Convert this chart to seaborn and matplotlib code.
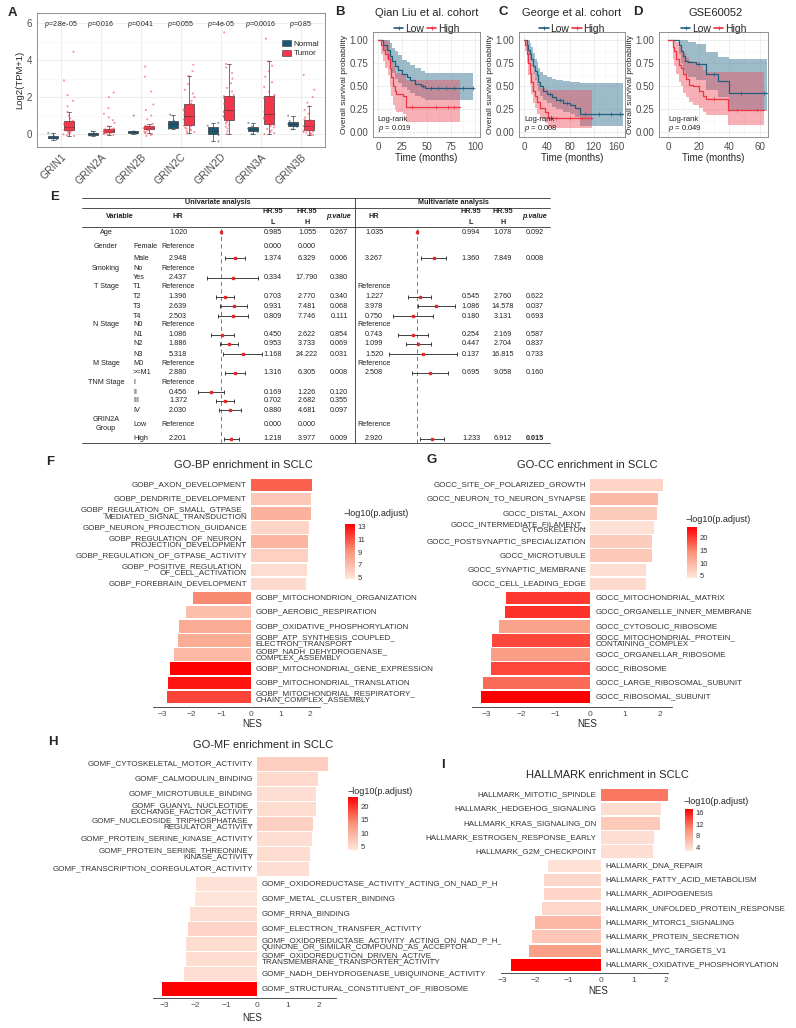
import numpy as np
import pandas as pd
import seaborn as sns
import matplotlib.pyplot as plt
from matplotlib.colors import LinearSegmentedColormap, Normalize
from matplotlib.cm import ScalarMappable
from matplotlib.lines import Line2D
from matplotlib.patches import Patch

sns.set_style("white")
plt.rcParams['font.family'] = ['Liberation Sans', 'DejaVu Sans']
plt.rcParams['mathtext.fontset'] = 'custom'
plt.rcParams['mathtext.rm'] = 'Liberation Sans'
plt.rcParams['mathtext.it'] = 'Liberation Sans:italic'
plt.rcParams['mathtext.bf'] = 'Liberation Sans:bold'

# ---------------- A: GRIN expression, normal vs tumor ----------------
genes = ["GRIN1", "GRIN2A", "GRIN2B", "GRIN2C", "GRIN2D", "GRIN3A", "GRIN3B"]
p_a = ["2.8e-05", "0.016", "0.041", "0.055", "4e-05", "0.0016", "0.85"]

grin1_normal = [-0.3, -0.25, -0.2, -0.18, -0.1, 0.05]
grin2a_normal = [-0.08, -0.04, 0.0, 0.02, 0.05, 0.15]
grin2b_normal = [0.02, 0.06, 0.1, 0.12, 0.15, 1.0]
grin2c_normal = [0.28, 0.32, 0.45, 0.6, 0.72, 1.05]
grin2d_normal = [-0.4, -0.05, 0.1, 0.2, 0.45, 0.6]
grin3a_normal = [0.0, 0.12, 0.25, 0.3, 0.42, 0.6]
grin3b_normal = [0.25, 0.4, 0.5, 0.55, 0.7, 1.0]

grin1_tumor = [-0.1, -0.06, -0.02, 0.03, 0.07, 0.1, 0.13, 0.17, 0.19, 0.21, 0.23, 0.25,
               0.27, 0.29, 0.31, 0.33, 0.36, 0.38, 0.4, 0.43, 0.46, 0.5, 0.54, 0.58,
               0.61, 0.64, 0.72, 0.85, 1.0, 1.2, 1.5, 1.8, 2.1, 2.9, 4.45]
grin2a_tumor = [-0.05, -0.02, 0.0, 0.03, 0.05, 0.07, 0.09, 0.1, 0.11, 0.13, 0.14, 0.15,
                0.15, 0.16, 0.16, 0.17, 0.17, 0.18, 0.19, 0.2, 0.21, 0.22, 0.23, 0.25,
                0.26, 0.27, 0.3, 0.42, 0.6, 0.75, 0.9, 1.1, 1.4, 2.0, 2.25]
grin2b_tumor = [-0.1, -0.05, 0.0, 0.05, 0.1, 0.15, 0.2, 0.24, 0.27, 0.28, 0.29, 0.3,
                0.3, 0.31, 0.31, 0.32, 0.32, 0.33, 0.34, 0.35, 0.36, 0.37, 0.38, 0.39,
                0.4, 0.41, 0.45, 0.55, 0.8, 1.0, 1.3, 1.6, 2.3, 3.1, 3.65]
grin2c_tumor = [0.05, 0.1, 0.15, 0.2, 0.25, 0.3, 0.35, 0.42, 0.46, 0.5, 0.56, 0.62,
                0.68, 0.74, 0.8, 0.86, 0.92, 0.97, 1.05, 1.12, 1.2, 1.28, 1.36, 1.44,
                1.52, 1.6, 1.65, 1.8, 2.0, 2.2, 2.4, 2.7, 3.15, 3.4, 3.75]
grin2d_tumor = [0.0, 0.15, 0.3, 0.4, 0.5, 0.58, 0.65, 0.72, 0.76, 0.8, 0.86, 0.92,
                0.98, 1.04, 1.1, 1.17, 1.24, 1.3, 1.38, 1.46, 1.55, 1.64, 1.74, 1.84,
                1.94, 2.05, 2.12, 2.3, 2.5, 2.75, 3.0, 3.3, 3.6, 3.8, 5.5]
grin3a_tumor = [0.0, 0.05, 0.12, 0.2, 0.28, 0.36, 0.44, 0.5, 0.54, 0.58, 0.64, 0.7,
                0.77, 0.84, 0.9, 0.96, 1.02, 1.08, 1.2, 1.32, 1.45, 1.58, 1.7, 1.82,
                1.94, 2.05, 2.12, 2.3, 2.55, 2.8, 3.1, 3.4, 3.7, 3.94, 5.16]
grin3b_tumor = [-0.05, 0.0, 0.04, 0.08, 0.11, 0.14, 0.17, 0.19, 0.21, 0.23, 0.26, 0.29,
                0.32, 0.35, 0.38, 0.41, 0.43, 0.45, 0.48, 0.52, 0.56, 0.6, 0.64, 0.68,
                0.72, 0.74, 0.78, 0.9, 1.1, 1.3, 1.5, 1.7, 2.0, 2.4, 3.2]

normal_sets = [grin1_normal, grin2a_normal, grin2b_normal, grin2c_normal,
               grin2d_normal, grin3a_normal, grin3b_normal]
tumor_sets = [grin1_tumor, grin2a_tumor, grin2b_tumor, grin2c_tumor,
              grin2d_tumor, grin3a_tumor, grin3b_tumor]

# ---------------- B-D: Kaplan-Meier (time, surv, lower, upper) ----------------
b_low_t = [0, 5, 9, 12, 15, 17.5, 21, 24.5, 30, 33, 38.5, 44, 48, 98]
b_low_s = [1.0, 0.95, 0.9, 0.83, 0.77, 0.72, 0.68, 0.63, 0.6, 0.57, 0.53, 0.5, 0.48, 0.48]
b_low_lo = [1.0, 0.88, 0.8, 0.71, 0.64, 0.58, 0.54, 0.49, 0.46, 0.43, 0.4, 0.37, 0.35, 0.35]
b_low_hi = [1.0, 1.0, 1.0, 0.97, 0.92, 0.88, 0.84, 0.79, 0.76, 0.73, 0.7, 0.67, 0.65, 0.65]
b_high_t = [0, 3, 5, 7, 10.5, 12, 14, 16, 17.5, 19, 26, 29, 84]
b_high_s = [1.0, 0.95, 0.9, 0.85, 0.8, 0.7, 0.6, 0.5, 0.45, 0.42, 0.4, 0.28, 0.28]
b_high_lo = [1.0, 0.85, 0.77, 0.7, 0.62, 0.5, 0.4, 0.3, 0.25, 0.22, 0.2, 0.11, 0.11]
b_high_hi = [1.0, 1.0, 1.0, 1.0, 0.98, 0.9, 0.82, 0.72, 0.67, 0.64, 0.62, 0.57, 0.57]
b_low_cens = [46, 55, 62, 70, 78, 88, 98]
b_high_cens = [35, 60, 72, 78]

c_low_t = [0, 4.6, 7.5, 10.4, 13, 16, 19, 22, 25, 27.6, 33, 39, 48, 56, 68, 79, 88, 97, 171]
c_low_s = [1.0, 0.95, 0.9, 0.85, 0.8, 0.72, 0.67, 0.62, 0.55, 0.5, 0.45, 0.42, 0.38,
           0.35, 0.32, 0.3, 0.27, 0.2, 0.2]
c_low_lo = [1.0, 0.9, 0.84, 0.78, 0.72, 0.63, 0.57, 0.52, 0.45, 0.4, 0.35, 0.32, 0.28,
            0.25, 0.22, 0.2, 0.17, 0.07, 0.07]
c_low_hi = [1.0, 1.0, 1.0, 0.97, 0.93, 0.86, 0.8, 0.76, 0.7, 0.66, 0.62, 0.6, 0.58,
            0.57, 0.56, 0.55, 0.55, 0.54, 0.54]
c_high_t = [0, 2, 4.6, 7.5, 10, 13, 16, 19, 22, 27.6, 36, 42, 118]
c_high_s = [1.0, 0.95, 0.85, 0.75, 0.65, 0.55, 0.45, 0.4, 0.33, 0.27, 0.22, 0.16, 0.16]
c_high_lo = [1.0, 0.88, 0.75, 0.62, 0.52, 0.42, 0.32, 0.27, 0.2, 0.15, 0.1, 0.05, 0.05]
c_high_hi = [1.0, 1.0, 0.96, 0.9, 0.82, 0.73, 0.64, 0.59, 0.53, 0.48, 0.47, 0.46, 0.46]
c_low_cens = [45, 62, 75, 105, 130, 150, 165]
c_high_cens = [55, 80, 100, 115]

d_low_t = [0, 7, 8.5, 9.6, 11, 13, 18.4, 25, 32.6, 39.8, 65]
d_low_s = [1.0, 0.95, 0.88, 0.83, 0.78, 0.76, 0.74, 0.63, 0.56, 0.43, 0.43]
d_low_lo = [1.0, 0.85, 0.75, 0.68, 0.63, 0.6, 0.57, 0.46, 0.38, 0.23, 0.23]
d_low_hi = [1.0, 1.0, 1.0, 1.0, 1.0, 0.98, 0.96, 0.87, 0.82, 0.8, 0.8]
d_high_t = [0, 3, 4, 5.3, 7, 8.5, 10, 12, 14, 16, 20.5, 23, 25, 39, 63]
d_high_s = [1.0, 0.93, 0.88, 0.8, 0.73, 0.7, 0.63, 0.58, 0.52, 0.5, 0.45, 0.4, 0.36, 0.24, 0.24]
d_high_lo = [1.0, 0.8, 0.72, 0.63, 0.55, 0.5, 0.43, 0.38, 0.33, 0.3, 0.26, 0.22, 0.19, 0.08, 0.08]
d_high_hi = [1.0, 1.0, 1.0, 0.98, 0.93, 0.9, 0.86, 0.82, 0.78, 0.76, 0.72, 0.68, 0.66, 0.66, 0.66]
d_low_cens = [20, 30, 48, 63]
d_high_cens = [30, 45, 58]

# ---------------- E: Cox regression table ----------------
tab_var = ["Age", "Gender", "", "Smoking", "", "T Stage", "", "", "", "N Stage", "", "", "",
           "M Stage", "", "TNM Stage", "", "", "", "GRIN2A\nGroup", ""]
tab_level = ["", "Female", "Male", "No", "Yes", "T1", "T2", "T3", "T4", "N0", "N1", "N2", "N3",
             "M0", ">=M1", "I", "II", "III", "IV", "Low", "High"]
nan = np.nan
uni_ref = [1, 3, 5, 9, 13, 15, 19]
uni_hr = [1.020, nan, 2.948, nan, 2.437, nan, 1.396, 2.639, 2.503, nan, 1.086, 1.886, 5.318,
          nan, 2.880, nan, 0.456, 1.372, 2.030, nan, 2.201]
uni_lo = [0.985, 0.0, 1.374, nan, 0.334, nan, 0.703, 0.931, 0.809, nan, 0.450, 0.953, 1.168,
          nan, 1.316, nan, 0.169, 0.702, 0.880, 0.0, 1.218]
uni_hi = [1.055, 0.0, 6.329, nan, 17.790, nan, 2.770, 7.481, 7.746, nan, 2.622, 3.733, 24.222,
          nan, 6.305, nan, 1.226, 2.682, 4.681, 0.0, 3.977]
uni_p = [0.267, nan, 0.006, nan, 0.380, nan, 0.340, 0.068, 0.111, nan, 0.854, 0.069, 0.031,
         nan, 0.008, nan, 0.120, 0.355, 0.097, nan, 0.009]
multi_ref = [5, 9, 13, 19]
multi_hr = [1.035, nan, 3.267, nan, nan, nan, 1.227, 3.978, 0.750, nan, 0.743, 1.099, 1.520,
            nan, 2.508, nan, nan, nan, nan, nan, 2.920]
multi_lo = [0.994, nan, 1.360, nan, nan, nan, 0.545, 1.086, 0.180, nan, 0.254, 0.447, 0.137,
            nan, 0.695, nan, nan, nan, nan, nan, 1.233]
multi_hi = [1.078, nan, 7.849, nan, nan, nan, 2.760, 14.578, 3.131, nan, 2.169, 2.704, 16.815,
            nan, 9.058, nan, nan, nan, nan, nan, 6.912]
multi_p = [0.092, nan, 0.008, nan, nan, nan, 0.622, 0.037, 0.693, nan, 0.587, 0.837, 0.733,
           nan, 0.160, nan, nan, nan, nan, nan, 0.015]
tab_y = [232, 246, 258, 268, 278, 287, 297, 306, 316, 325, 335, 344, 354, 363, 373, 382,
         392, 401, 410, 424, 439]

# ---------------- F-I: GSEA enrichment ----------------
f_terms = ["GOBP_AXON_DEVELOPMENT", "GOBP_DENDRITE_DEVELOPMENT",
           "GOBP_REGULATION_OF_SMALL_GTPASE_\nMEDIATED_SIGNAL_TRANSDUCTION",
           "GOBP_NEURON_PROJECTION_GUIDANCE", "GOBP_REGULATION_OF_NEURON_\nPROJECTION_DEVELOPMENT",
           "GOBP_REGULATION_OF_GTPASE_ACTIVITY", "GOBP_POSITIVE_REGULATION_\nOF_CELL_ACTIVATION",
           "GOBP_FOREBRAIN_DEVELOPMENT", "GOBP_MITOCHONDRION_ORGANIZATION",
           "GOBP_AEROBIC_RESPIRATION", "GOBP_OXIDATIVE_PHOSPHORYLATION",
           "GOBP_ATP_SYNTHESIS_COUPLED_\nELECTRON_TRANSPORT", "GOBP_NADH_DEHYDROGENASE_\nCOMPLEX_ASSEMBLY",
           "GOBP_MITOCHONDRIAL_GENE_EXPRESSION", "GOBP_MITOCHONDRIAL_TRANSLATION",
           "GOBP_MITOCHONDRIAL_RESPIRATORY_\nCHAIN_COMPLEX_ASSEMBLY"]
f_nes = [2.05, 2.03, 2.01, 1.97, 1.93, 1.93, 1.88, 1.86,
         -1.95, -2.2, -2.42, -2.48, -2.6, -2.74, -2.79, -2.85]
f_padj = [10.6, 6.4, 7.6, 5.8, 7.4, 6.0, 5.3, 5.5, 9.4, 6.9, 8.0, 7.9, 7.2, 13.4, 12.8, 11.4]

g_terms = ["GOCC_SITE_OF_POLARIZED_GROWTH", "GOCC_NEURON_TO_NEURON_SYNAPSE", "GOCC_DISTAL_AXON",
           "GOCC_INTERMEDIATE_FILAMENT_\nCYTOSKELETON", "GOCC_POSTSYNAPTIC_SPECIALIZATION",
           "GOCC_MICROTUBULE", "GOCC_SYNAPTIC_MEMBRANE", "GOCC_CELL_LEADING_EDGE",
           "GOCC_MITOCHONDRIAL_MATRIX", "GOCC_ORGANELLE_INNER_MEMBRANE", "GOCC_CYTOSOLIC_RIBOSOME",
           "GOCC_MITOCHONDRIAL_PROTEIN_\nCONTAINING_COMPLEX", "GOCC_ORGANELLAR_RIBOSOME",
           "GOCC_RIBOSOME", "GOCC_LARGE_RIBOSOMAL_SUBUNIT", "GOCC_RIBOSOMAL_SUBUNIT"]
g_nes = [2.09, 1.96, 1.93, 1.85, 1.79, 1.78, 1.62, 1.62,
         -2.43, -2.48, -2.63, -2.85, -2.86, -2.87, -3.1, -3.15]
g_padj = [6.5, 9.5, 7.5, 5.0, 7.5, 8.0, 5.2, 5.8, 20.5, 21, 12.5, 19.5, 13, 19.5, 17, 24.3]

h_terms = ["GOMF_CYTOSKELETAL_MOTOR_ACTIVITY", "GOMF_CALMODULIN_BINDING", "GOMF_MICROTUBULE_BINDING",
           "GOMF_GUANYL_NUCLEOTIDE_\nEXCHANGE_FACTOR_ACTIVITY",
           "GOMF_NUCLEOSIDE_TRIPHOSPHATASE_\nREGULATOR_ACTIVITY",
           "GOMF_PROTEIN_SERINE_KINASE_ACTIVITY", "GOMF_PROTEIN_SERINE_THREONINE_\nKINASE_ACTIVITY",
           "GOMF_TRANSCRIPTION_COREGULATOR_ACTIVITY",
           "GOMF_OXIDOREDUCTASE_ACTIVITY_ACTING_ON_NAD_P_H", "GOMF_METAL_CLUSTER_BINDING",
           "GOMF_RRNA_BINDING", "GOMF_ELECTRON_TRANSFER_ACTIVITY",
           "GOMF_OXIDOREDUCTASE_ACTIVITY_ACTING_ON_NAD_P_H_\nQUINONE_OR_SIMILAR_COMPOUND_AS_ACCEPTOR",
           "GOMF_OXIDOREDUCTION_DRIVEN_ACTIVE_\nTRANSMEMBRANE_TRANSPORTER_ACTIVITY",
           "GOMF_NADH_DEHYDROGENASE_UBIQUINONE_ACTIVITY", "GOMF_STRUCTURAL_CONSTITUENT_OF_RIBOSOME"]
h_nes = [2.3, 1.97, 1.9, 1.9, 1.8, 1.77, 1.72, 1.68,
         -1.97, -2.02, -2.18, -2.26, -2.31, -2.31, -2.37, -3.08]
h_padj = [6.5, 5.2, 4.5, 4.8, 6.3, 4.5, 4.8, 4.5, 4.0, 3.8, 4.6, 5.8, 4.8, 4.8, 4.5, 23.8]

i_terms = ["HALLMARK_MITOTIC_SPINDLE", "HALLMARK_HEDGEHOG_SIGNALING", "HALLMARK_KRAS_SIGNALING_DN",
           "HALLMARK_ESTROGEN_RESPONSE_EARLY", "HALLMARK_G2M_CHECKPOINT", "HALLMARK_DNA_REPAIR",
           "HALLMARK_FATTY_ACID_METABOLISM", "HALLMARK_ADIPOGENESIS",
           "HALLMARK_UNFOLDED_PROTEIN_RESPONSE", "HALLMARK_MTORC1_SIGNALING",
           "HALLMARK_PROTEIN_SECRETION", "HALLMARK_MYC_TARGETS_V1", "HALLMARK_OXIDATIVE_PHOSPHORYLATION"]
i_nes = [2.31, 1.85, 1.81, 1.62, 1.6, -1.62, -1.73, -1.74, -1.78, -2.0, -2.08, -2.18, -2.74]
i_padj = [11.5, 3.5, 5.2, 3.3, 3.3, 3.1, 4.0, 4.2, 4.0, 6.8, 5.5, 9.0, 17.4]

# ---------------- figure helpers ----------------
W, H = 796, 1028
fig = plt.figure(figsize=(W / 100, H / 100), dpi=100)


def rect(l, t, r, b):
    return [l / W, 1 - b / H, (r - l) / W, (b - t) / H]


def ftext(x, y, s, **kw):
    kw.setdefault("va", "center")
    fig.text(x / W, 1 - y / H, s, **kw)


GRAY = "#4D4D4D"
TEAL = "#175A76"
RED = "#F5364A"
LOW_LINE, LOW_BAND = "#235F7D", "#5C8EA6"
HIGH_LINE, HIGH_BAND = "#EE3343", "#EF515F"

for letter, x, y in [("A", 12, 13), ("B", 340, 12), ("C", 503, 12), ("D", 638, 12),
                     ("E", 55, 197), ("F", 50, 462), ("G", 432, 460), ("H", 53, 742), ("I", 443, 765)]:
    ftext(x, y, letter, fontsize=9.5, fontweight="bold", ha="center")


def bw_frame(ax):
    for s in ax.spines.values():
        s.set_color("#7F7F7F")
        s.set_linewidth(0.6)
    ax.set_axisbelow(True)
    ax.grid(True, which="major", color="#EBEBEB", lw=0.6)
    ax.grid(True, which="minor", color="#F4F4F4", lw=0.4)
    ax.tick_params(which="major", colors=GRAY, labelsize=7, length=2, width=0.5, pad=1.5)
    ax.tick_params(which="minor", length=0)


# ---------------- A ----------------
rows = []
for g, nv, tv in zip(genes, normal_sets, tumor_sets):
    rows += [(g, "Normal", v) for v in nv] + [(g, "Tumor", v) for v in tv]
df_a = pd.DataFrame(rows, columns=["gene", "group", "expr"])
pal = {"Normal": TEAL, "Tumor": RED}

axA = fig.add_axes(rect(37, 13, 325, 147))
sns.boxplot(data=df_a, x="gene", y="expr", hue="group", palette=pal, width=0.8, gap=0.4,
            showfliers=False, linewidth=0.5, linecolor="#3A3A3A", saturation=1, ax=axA, legend=False)
sns.stripplot(data=df_a, x="gene", y="expr", hue="group", palette=pal, dodge=True, jitter=0.28,
              size=1.5, alpha=0.55, linewidth=0, legend=False, ax=axA)
axA.set_xlim(-0.6, 6.6)
axA.set_ylim(-0.7, 6.55)
axA.set_yticks([0, 2, 4, 6])
axA.set_yticks([1, 3, 5], minor=True)
bw_frame(axA)
axA.set_xlabel("")
axA.set_ylabel("Log2(TPM+1)", fontsize=6.8, labelpad=2)
plt.setp(axA.get_xticklabels(), rotation=45, ha="right", rotation_mode="anchor", fontsize=7.5)
for i, p in enumerate(p_a):
    axA.text(i, 5.95, f"$p$={p}", ha="center", va="center", fontsize=5, color="#222222")
axA.legend(handles=[Patch(fc=TEAL, ec="#3A3A3A", lw=0.4, label="Normal"),
                    Patch(fc=RED, ec="#3A3A3A", lw=0.4, label="Tumor")],
           loc="upper right", bbox_to_anchor=(1.0, 0.84), frameon=False, fontsize=5.8,
           handlelength=1.0, handleheight=0.8, handletextpad=0.4, labelspacing=0.2, borderpad=0.2)


# ---------------- B-D ----------------
def km_panel(box, curves, xlim, xticks, xminor, title, pval, title_x):
    ax = fig.add_axes(rect(*box))
    for t, s, lo, hi, cens, lc, bc, a in curves:
        ax.fill_between(t, lo, hi, step="post", color=bc, alpha=a, lw=0)
    for t, s, lo, hi, cens, lc, bc, a in curves:
        sns.lineplot(x=t, y=s, drawstyle="steps-post", color=lc, lw=0.9, ax=ax, estimator=None)
        idx = np.searchsorted(t, cens, side="right") - 1
        ax.plot(cens, np.asarray(s)[idx], ls="none", marker="+", ms=2.5, mew=0.5, color=lc)
    ax.set_xlim(*xlim)
    ax.set_ylim(-0.05, 1.09)
    ax.set_xticks(xticks)
    ax.set_xticks(xminor, minor=True)
    ax.set_yticks([0, 0.25, 0.5, 0.75, 1.0])
    ax.set_yticklabels(["0.00", "0.25", "0.50", "0.75", "1.00"])
    ax.set_yticks([0.125, 0.375, 0.625, 0.875], minor=True)
    bw_frame(ax)
    ax.set_xlabel("Time (months)", fontsize=7, labelpad=0.5)
    ax.set_ylabel("Overall survival probability", fontsize=6, labelpad=1)
    ax.text(0, 0.14, "Log-rank", fontsize=5.5, va="center", color="#222222")
    ax.text(0, 0.045, f"$p$ = {pval}", fontsize=5.5, va="center", color="#222222")
    ftext(title_x, 13, title, fontsize=8, ha="center")
    handles = [Line2D([], [], color=LOW_LINE, marker="+", ms=3, mew=0.6, lw=1.2),
               Line2D([], [], color=HIGH_LINE, marker="+", ms=3, mew=0.6, lw=1.2)]
    ax.legend(handles, ["Low", "High"], loc="lower center", bbox_to_anchor=(0.5, 0.985), ncol=2,
              frameon=False, fontsize=7.5, handlelength=0.9, handletextpad=0.15,
              columnspacing=0.3, borderpad=0, borderaxespad=0)
    return ax


km_panel((373, 32, 480, 137),
         [(b_low_t, b_low_s, b_low_lo, b_low_hi, b_low_cens, LOW_LINE, LOW_BAND, 0.6),
          (b_high_t, b_high_s, b_high_lo, b_high_hi, b_high_cens, HIGH_LINE, HIGH_BAND, 0.45)],
         (-5, 105), [0, 25, 50, 75, 100], [12.5, 37.5, 62.5, 87.5],
         "Qian Liu et al. cohort", "0.019", 427)
km_panel((519, 32, 625, 137),
         [(c_low_t, c_low_s, c_low_lo, c_low_hi, c_low_cens, LOW_LINE, LOW_BAND, 0.6),
          (c_high_t, c_high_s, c_high_lo, c_high_hi, c_high_cens, HIGH_LINE, HIGH_BAND, 0.45)],
         (-8.5, 174), [0, 40, 80, 120, 160], [20, 60, 100, 140],
         "George et al. cohort", "0.008", 572)
km_panel((659, 32, 768, 137),
         [(d_low_t, d_low_s, d_low_lo, d_low_hi, d_low_cens, LOW_LINE, LOW_BAND, 0.6),
          (d_high_t, d_high_s, d_high_lo, d_high_hi, d_high_cens, HIGH_LINE, HIGH_BAND, 0.45)],
         (-6, 65.5), [0, 20, 40, 60], [10, 30, 50],
         "GSE60052", "0.049", 716)

# ---------------- E: table ----------------
axT = fig.add_axes([0, 0, 1, 1])
axT.set_xlim(0, W)
axT.set_ylim(H, 0)
axT.axis("off")
for y in [198, 208, 227, 443]:
    axT.plot([82, 550], [y, y], color="#333333", lw=0.6)
axT.plot([355, 355], [198, 443], color="#333333", lw=0.6)

TS = 5.2
TC = "#222222"
hb = dict(fontsize=TS, fontweight="bold", ha="center", color=TC)
ftext(218, 203, "Univariate analysis", **hb)
ftext(453, 203, "Multivariate analysis", **hb)
ftext(120, 217, "Variable", **hb)
for x in [178, 374]:
    ftext(x, 217, "HR", **hb)
for x, ch in [(273, "L"), (307, "H"), (471, "L"), (503, "H")]:
    ftext(x, 212, "HR.95", **hb)
    ftext(x, 222, ch, **hb)
for x in [339, 535]:
    ftext(x, 217, "p.value", fontstyle="italic", **hb)

tb = dict(fontsize=TS, color=TC)
for i, y in enumerate(tab_y):
    if tab_var[i]:
        ftext(106, y, tab_var[i], ha="center", linespacing=1.5, **tb)
    ftext(133, y, tab_level[i], ha="left", **tb)
    if i in uni_ref:
        ftext(178, y, "Reference", ha="center", **tb)
    elif not np.isnan(uni_hr[i]):
        ftext(178, y, f"{uni_hr[i]:.3f}", ha="center", **tb)
    for x, v in [(273, uni_lo[i]), (307, uni_hi[i]), (339, uni_p[i])]:
        if not np.isnan(v):
            ftext(x, y, f"{v:.3f}", ha="center", **tb)
    if i in multi_ref:
        ftext(374, y, "Reference", ha="center", **tb)
    elif not np.isnan(multi_hr[i]):
        ftext(374, y, f"{multi_hr[i]:.3f}", ha="center", **tb)
    for x, v in [(471, multi_lo[i]), (503, multi_hi[i]), (535, multi_p[i])]:
        if not np.isnan(v):
            bold = "bold" if (x == 535 and i == len(tab_y) - 1) else "normal"
            ftext(x, y, f"{v:.3f}", ha="center", fontweight=bold, **tb)


def forest(box, xlim, hr, lo, hi):
    ax = fig.add_axes(rect(*box))
    ax.set_xscale("log")
    ax.set_xlim(*xlim)
    ax.set_ylim(box[3], box[1])
    ax.axis("off")
    ax.axvline(1, color="#666666", lw=0.6, ls=(0, (5, 4)))
    for y, h, l, u in zip(tab_y, hr, lo, hi):
        if np.isnan(h):
            continue
        ax.errorbar([h], [y], xerr=[[h - l], [u - h]], fmt="none", ecolor="#222222",
                    elinewidth=0.6, capsize=1.3, capthick=0.6)
        ax.plot([h], [y], marker="s", ms=2, color="#E8272B", ls="none", zorder=5)


forest((190, 228, 268, 443), (0.0921, 37.2), uni_hr, uni_lo, uni_hi)
forest((385, 228, 467, 443), (0.1017, 35.6), multi_hr, multi_lo, multi_hi)

# ---------------- F-I: enrichment bars ----------------
cmap = LinearSegmentedColormap.from_list("padj", ["#FFE6DC", "#F9957A", "#FF0000"])


def enrich(box, terms, nes, padj, vlim, xlim, pad, cb_box, cb_ticks, cb_title_y,
           title, title_xy, nes_xy):
    ax = fig.add_axes(rect(*box))
    norm = Normalize(*vlim)
    cols = [cmap(norm(v)) for v in padj]
    df = pd.DataFrame({"term": terms, "NES": nes})
    sns.barplot(data=df, x="NES", y="term", hue="term", palette=cols, legend=False,
                width=0.88, errorbar=None, orient="h", linewidth=0, saturation=1, ax=ax)
    n = len(terms)
    ax.set_ylim(n - 1 + pad, -pad)
    ax.set_xlim(*xlim)
    ax.set_yticks([])
    ax.set_xticks([-3, -2, -1, 0, 1, 2])
    ax.set_xlabel("")
    ax.set_ylabel("")
    for s in ["left", "top", "right"]:
        ax.spines[s].set_visible(False)
    ax.spines["bottom"].set_color("#333333")
    ax.spines["bottom"].set_linewidth(0.6)
    ax.tick_params(axis="x", colors=GRAY, labelsize=6, length=2, width=0.5, pad=1)
    for i, (t, v) in enumerate(zip(terms, nes)):
        if v > 0:
            ax.annotate(t, (0, i), xytext=(-3, 0), textcoords="offset points", ha="right",
                        va="center", fontsize=5.8, color="#333333", linespacing=0.86)
        else:
            ax.annotate(t, (0, i), xytext=(3.5, 0), textcoords="offset points", ha="left",
                        va="center", fontsize=5.8, color="#333333", linespacing=0.86)
    ftext(*title_xy, title, fontsize=8, ha="center")
    ftext(*nes_xy, "NES", fontsize=7, ha="center")
    cax = fig.add_axes(rect(*cb_box))
    cb = fig.colorbar(ScalarMappable(norm=norm, cmap=cmap), cax=cax)
    cb.outline.set_visible(False)
    cb.set_ticks(cb_ticks)
    cax.tick_params(labelsize=5.5, length=0, pad=2, colors="#333333")
    ftext(cb_box[0] - 1, cb_title_y, "\u2212log10(p.adjust)", fontsize=6.5, ha="left")


enrich((153, 475, 320, 707), f_terms, f_nes, f_padj, (4.8, 13.4), (-3.31, 2.33), 0.71,
       (345, 524, 355, 579), [5, 7, 9, 11, 13], 513,
       "GO-BP enrichment in SCLC", (243, 465), (252, 724))
enrich((472, 475, 672, 707), g_terms, g_nes, g_padj, (4.2, 24.3), (-3.42, 2.36), 0.71,
       (687, 527, 697, 578), [5, 10, 15, 20], 519,
       "GO-CC enrichment in SCLC", (587, 465), (587, 724))
enrich((153, 755, 336, 998), h_terms, h_nes, h_padj, (3.5, 23.8), (-3.38, 2.56), 0.6,
       (348, 797, 358, 850), [5, 10, 15, 20], 791,
       "GO-MF enrichment in SCLC", (263, 745), (252, 1018))
enrich((501, 787, 668, 973), i_terms, i_nes, i_padj, (2.6, 17.4), (-3.04, 2.05), 0.56,
       (685, 809, 693, 851), [4, 8, 12, 16], 801,
       "HALLMARK enrichment in SCLC", (607, 775), (598, 991))

fig.savefig("out.png", dpi=100)
